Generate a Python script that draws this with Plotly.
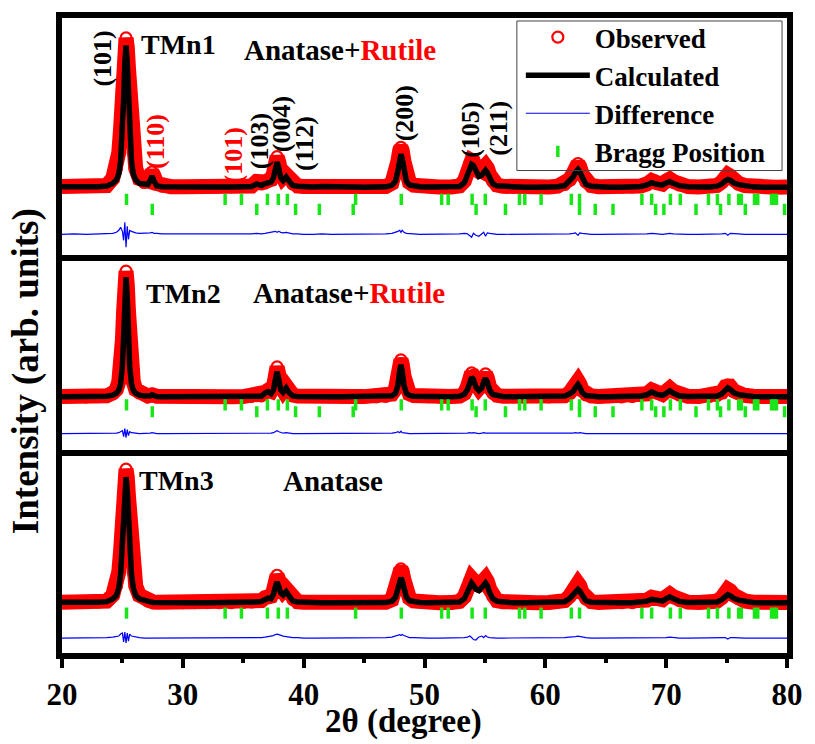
import plotly.graph_objects as go
from plotly.subplots import make_subplots

# ---------------- data ----------------
TWO_THETA = [20, 21, 22, 23, 23.7,
             24.2, 24.5, 24.7, 24.85, 25.0, 25.1, 25.2, 25.3, 25.4, 25.5, 25.6, 25.75, 25.9, 26.1, 26.4, 26.8,
             27.1, 27.3, 27.45, 27.6, 27.85, 28.3,
             29, 30, 31, 32, 33, 34, 35, 35.7, 36.1, 36.5,
             36.8, 37.05, 37.3, 37.5, 37.65, 37.8, 37.95, 38.1, 38.3, 38.55, 38.8, 39.1, 39.5, 40.0,
             40.8, 41.5, 42.3, 43.2, 44.1, 45, 46, 46.8, 47.3,
             47.6, 47.8, 47.95, 48.05, 48.15, 48.3, 48.5, 48.75, 49.1, 49.6,
             50.3, 51.2, 52.2, 52.9,
             53.3, 53.55, 53.75, 53.9, 54.05, 54.25, 54.5, 54.75, 54.9, 55.05, 55.2, 55.4, 55.65, 56.0, 56.5,
             57.3, 58.3, 59.3, 60.3, 61.0,
             61.6, 62.0, 62.3, 62.5, 62.7, 62.85, 63.05, 63.35, 63.8, 64.4,
             65.3, 66.3, 67.2, 67.9,
             68.4, 68.8, 69.2, 69.7, 70.0, 70.3, 70.6, 71.1, 71.8, 72.7, 73.6,
             74.2, 74.6, 74.9, 75.1, 75.3, 75.6, 76.0, 76.5, 77.2, 78.0, 79.0, 80.0]

CALC_TMN1 = [1.8, 1.6, 1.6, 1.8, 2.5,
             5, 8.5, 14.5, 27.5, 56.5, 89.5, 126.5, 143.5, 126.5, 89.5, 56.5, 27.5, 14.5, 8.5, 5, 4,
             4, 8, 12.5, 8, 2.5, 1.7,
             1.5, 1.5, 1.5, 1.5, 1.5, 1.5, 1.6, 2, 4.5, 3,
             5.0, 6.2, 6.3, 10.7, 19.9, 26.5, 19.8, 10.8, 8.0, 11.6, 7.3, 3.0, 2.2, 1.7,
             1.5, 2, 1.5, 1.3, 1.5, 1.3, 1.3, 1.6, 3.1,
             7.2, 17.8, 30.3, 34.3, 30.3, 17.8, 7.2, 3.4, 2.2, 1.7,
             1.5, 1.3, 1.3, 2,
             5.7, 12.4, 20.9, 24.2, 23, 17.3, 12, 13.4, 16.9, 18.2, 15.9, 9.8, 4.8, 2.6, 2.2,
             1.2, 1.2, 1.2, 1.3, 1.8,
             2.9, 7, 11.7, 16.2, 19, 16.5, 10, 4.2, 2.2, 1.6,
             1.2, 1.2, 1.3, 2,
             3.5, 5.8, 4.2, 3.5, 5.5, 6.8, 5, 2.8, 1.7, 1.4, 1.5,
             2.3, 4.5, 7.8, 9, 8.2, 5.5, 3.8, 2.4, 1.6, 1.3, 1.2, 1.2]
OBS_TMN1 = [2, 1.8, 1.8, 2, 3,
            10, 20, 36, 60, 94, 121, 142, 151, 142, 121, 94, 60, 36, 20, 10, 6,
            7.5, 13, 16.5, 13, 5, 2.2,
            1.8, 1.6, 1.8, 1.6, 1.7, 1.8, 2, 2.5, 7, 4.5,
            6.5, 8, 9, 15, 25, 32, 26, 16, 11, 14, 9.5, 4.5, 2.5, 2,
            1.6, 2.2, 1.7, 1.5, 1.7, 1.5, 1.5, 2, 5.3,
            13.7, 27.3, 38.3, 41.3, 38.3, 27.3, 13.7, 6.1, 3.3, 2.2,
            1.7, 1.5, 1.5, 2.5,
            7.5, 16, 25, 28, 27, 21, 16, 17.5, 21, 23, 20.5, 13.5, 7, 3.5, 2.2,
            1.4, 1.3, 1.4, 1.5, 2.2,
            4, 9, 15, 21, 25, 22, 14, 6.5, 3, 1.8,
            1.4, 1.3, 1.5, 2.5,
            4.5, 8, 6, 4.5, 7.5, 9.5, 7, 3.5, 2, 1.5, 1.8,
            3, 6.5, 12, 14, 12.5, 8, 5, 3, 1.8, 1.5, 1.3, 1.5]
DIFF_TMN1 = [0, 0.5, 0, 0.5, 0.5,
             1, 2, 4, 7, 3, -6, 12, -13, 8, -5, 4, 3, 2, 1.5, 1, 1,
             1, 1.5, 2, 1, 1, 0.5,
             0.5, 0.5, 0, 0.5, 0, 0.5, 0, 0.5, 1, 0.5,
             1, 1.5, 2, 2.5, 3, 2, 3, 2, 1.5, 2, 1, 0.5, 0.5, 0,
             0, 0.5, 0, 0, 0.5, 0, 0, 0.5, 1,
             2, 3, 4, 2, 4, 2, 1, 0.5, 0.5, 0,
             0, 0, 0, 0.5,
             1, 0.5, -1.5, -3, 1, -1, -2, 1, 2, -2, 1.5, 1, 0.5, 0, 0,
             0, 0, 0, 0, 0,
             0.5, 0.5, 1, 1.5, -1, 1.5, 1, 0.5, 0, 0,
             0, 0, 0, 0.5,
             0.5, 1, 0.5, 0, 0.5, 1, 0.5, 0, 0, 0, 0,
             0, 0.5, 1, -1, 1, 0.5, 0.5, 0, 0, 0, 0, 0]

CALC_TMN2 = [1, 1, 1, 1.2, 1.6,
             2.7, 4.6, 7.6, 14, 32, 61, 101, 121, 101, 61, 32, 14, 7.6, 4.6, 2.7, 1.8,
             1.5, 2, 3, 2, 1.2, 1,
             1, 1, 1, 1, 1, 1, 1, 1.2, 1.8, 1.5,
             4.8, 6.1, 4.1, 7.9, 17.9, 26.3, 17.9, 8.2, 5.5, 9.8, 5.1, 1.9, 1.4, 1.1,
             1, 1.3, 1, 1, 1.2, 1, 1, 1.2, 2,
             4.5, 12.5, 27.6, 33, 27.6, 12.5, 4.5, 2.3, 1.5, 1.2,
             1, 1, 1, 1.5,
             3.5, 8, 16.6, 20.5, 18.3, 10.7, 7.2, 9.9, 16.1, 19.5, 15.8, 7.6, 3.4, 2, 1.4,
             1, 1, 1, 1, 1.3,
             1.7, 4, 6.4, 10.2, 13.4, 10.8, 5.2, 2.2, 1.4, 1.1,
             1, 1, 1.1, 1.8,
             3, 6, 3.5, 2.5, 4.5, 7, 4.5, 2, 1.3, 1.1, 1.2,
             1.8, 3.8, 8, 10, 8.5, 5, 3.2, 2, 1.3, 1.1, 1, 1]
OBS_TMN2 = [1.2, 1.2, 1, 1.2, 2,
            4.8, 8.3, 16, 29, 58, 87, 114, 127, 114, 87, 58, 29, 16, 8.3, 4.8, 3,
            1.8, 2.5, 4, 2.5, 1.5, 1.2,
            1.2, 1, 1.2, 1, 1.2, 1, 1.2, 1.5, 2.2, 2,
            5.5, 7.5, 6.5, 11, 23, 31, 23, 11.5, 7.5, 12, 7, 2.8, 1.7, 1.3,
            1.2, 1.5, 1.2, 1, 1.4, 1.2, 1, 1.5, 3.8,
            9.1, 21.7, 34.3, 38, 34.3, 21.7, 9.1, 4.1, 2.2, 1.5,
            1.2, 1, 1.2, 1.8,
            4.5, 11, 21, 25, 22.5, 14, 9.5, 13, 20.5, 24, 20, 10, 4.5, 2.5, 1.6,
            1.2, 1, 1.2, 1, 1.5,
            2, 5, 8.5, 13.5, 17, 14, 7.5, 3, 1.8, 1.3,
            1.2, 1, 1.3, 2.2,
            4, 8, 5, 3.5, 6.5, 9.5, 6.5, 2.8, 1.5, 1.2, 1.5,
            2.2, 5.5, 11, 13, 11.5, 7, 4.2, 2.5, 1.5, 1.2, 1.1, 1.2]
DIFF_TMN2 = [0, 0, 0, 0, 0,
             0.5, 0.5, 1, 2, 3, -3, 5, -4, 4, -2, 2, 1, 0.5, 0.5, 0, 0,
             0, 0.5, 1, 0.5, 0, 0,
             0, 0, 0, 0, 0, 0, 0, 0, 0.5, 0,
             0.5, 0.5, 0.5, 1, 2, 3, 2, 1, 0.5, 1, 0.5, 0, 0, 0,
             0, 0, 0, 0, 0, 0, 0, 0, 0.5,
             1, 2, 1, 2.5, 1, 1, 0.5, 0, 0, 0,
             0, 0, 0, 0,
             0.5, 0.5, 1, 0.5, 1, 0.5, 0, 0.5, 1, 0.5, 0.5, 0, 0, 0, 0,
             0, 0, 0, 0, 0,
             0, 0.5, 0.5, 1, 0.5, 1, 0.5, 0, 0, 0,
             0, 0, 0, 0,
             0, 0.5, 0, 0, 0.5, 0.5, 0, 0, 0, 0, 0,
             0, 0, 0.5, 0.5, 0, 0.5, 0, 0, 0, 0, 0, 0]

CALC_TMN3 = [1.8, 1.6, 1.6, 1.8, 2.5,
             5.3, 8.8, 16.5, 29.5, 58.5, 87.5, 114.5, 127.5, 114.5, 87.5, 58.5, 29.5, 16.5, 8.8, 5.3, 3.5,
             2.5, 2, 1.8, 1.7, 1.6, 1.5,
             1.4, 1.4, 1.4, 1.4, 1.4, 1.4, 1.5, 1.8, 2.2, 2.8,
             5, 6, 5.4, 9.9, 17.2, 22.2, 17.6, 11.2, 9.2, 12.5, 8.2, 3.3, 2.1, 1.7,
             1.5, 1.4, 1.4, 1.4, 1.4, 1.4, 1.4, 1.6, 3,
             6.9, 15.4, 23.9, 26.4, 23.9, 15.4, 6.9, 3.5, 2.2, 1.7,
             1.5, 1.4, 1.4, 2.2,
             5.5, 11.3, 18.5, 21.2, 18.9, 15, 13.5, 16, 18.9, 21.2, 18.5, 11.3, 5.5, 2.8, 2.1,
             1.3, 1.3, 1.3, 1.4, 1.8,
             2.5, 5.6, 9.3, 12.6, 14.8, 12.9, 8, 3.5, 2, 1.6,
             1.3, 1.3, 1.4, 2,
             3, 4.8, 3.8, 3.2, 5.5, 7.3, 5.3, 2.8, 1.7, 1.4, 1.5,
             2.2, 4.5, 8, 9.5, 8.6, 5.8, 4, 2.6, 1.7, 1.4, 1.3, 1.3]
OBS_TMN3 = [2, 1.8, 1.8, 2, 3,
            9, 18.3, 32.3, 53.5, 84.5, 108.5, 127.5, 135.5, 127.5, 108.5, 84.5, 53.5, 32.3, 18.3, 9, 5.5,
            3, 2.3, 2, 2, 1.8, 1.7,
            1.6, 1.5, 1.6, 1.5, 1.6, 1.6, 1.8, 2.2, 2.8, 3.5,
            6.5, 8, 8, 14, 23, 29, 24, 16, 12.5, 15.5, 10.5, 4.5, 2.5, 2,
            1.7, 1.6, 1.5, 1.5, 1.6, 1.5, 1.6, 2, 4.5,
            13.3, 24.4, 33, 35.4, 33, 24.4, 13.3, 6.2, 3.3, 2.3,
            1.7, 1.5, 1.6, 2.8,
            7.5, 15, 23, 26, 24, 20, 18, 20.5, 24, 26, 23, 15, 7.5, 3.5, 2.5,
            1.5, 1.4, 1.5, 1.6, 2.2,
            3.5, 8, 13, 18, 21, 18.5, 11.5, 5, 2.5, 1.8,
            1.5, 1.4, 1.6, 2.5,
            4, 7, 5.5, 4.5, 7.5, 10, 7.5, 3.5, 2, 1.6, 1.8,
            3, 6.5, 12.5, 15, 13.5, 9, 5.5, 3.2, 2, 1.6, 1.5, 1.6]
DIFF_TMN3 = [0, 0, 0, 0, 0.5,
             1, 1.5, 2, 4, 5, -4, 6, -5, 5, -3, 4, 2, 1.5, 1, 0.5, 0,
             0, 0, 0, 0, 0, 0,
             0, 0, 0, 0, 0, 0, 0, 0, 0.5, 0.5,
             1, 1.5, 1.5, 2.5, 3.5, 4, 3.5, 2.5, 2, 1.5, 1, 0.5, 0.5, 0,
             0, 0, 0, 0, 0, 0, 0, 0.5, 1,
             2, 3, 3.5, 2.5, 3.5, 2.5, 1.5, 0.5, 0.5, 0,
             0, 0, 0, 0.5,
             0.5, 1, 2, 0.5, -1.5, -2, 1, 2, 0.5, 2.5, 1, 0.5, 0, 0, 0,
             0, 0, 0, 0, 0,
             0.5, 1, 1, 1.5, 2, 1.5, 1, 0.5, 0, 0,
             0, 0, 0, 0.5,
             0.5, 0.5, 0.5, 0, 0.5, 1, 0.5, 0, 0, 0, 0,
             0, 0.5, 0.5, -1, 0.5, 0.5, 0, 0, 0, 0, 0, 0]

ANATASE_BRAGG = [25.34, 33.5, 34.85, 37.0, 37.9, 38.65, 44.3, 48.08, 51.42, 51.96,
                 53.94, 55.03, 57.86, 58.3, 59.65, 62.15, 62.83, 67.99, 68.8, 70.35,
                 71.17, 73.5, 74.24, 75.19, 76.0, 76.22, 77.31, 77.58, 78.72, 78.94, 79.13]
RUTILE_BRAGG = [27.47, 36.12, 39.33, 41.3, 44.1, 54.27, 56.7, 62.83, 64.13, 65.6,
                69.13, 69.81, 72.47, 74.5, 76.55, 79.8]

X_TICKS = [20, 30, 40, 50, 60, 70, 80]
SAMPLES = ["TMn1", "TMn2", "TMn3"]

# ---------------- styling ----------------
FONT = "Liberation Serif, Times New Roman, serif"
RED, BLUE, GREEN, BLACK = "#ff0000", "#0000ff", "#19e619", "#000000"
W, H = 815, 744
L, R, T, B = 62, 23, 16, 91
PW, PH = W - L - R, H - T - B


def px(x):
    return (x - L) / PW


def py(y):
    return (H - B - y) / PH


panels = [
    dict(obs=OBS_TMN1, calc=CALC_TMN1, diff=DIFF_TMN1, dom=(254, 16), rng=[-67, 171],
         doff=-46, aoff=-11, roff=-21, rutile=True),
    dict(obs=OBS_TMN2, calc=CALC_TMN2, diff=DIFF_TMN2, dom=(449, 260), rng=[-52, 137],
         doff=-36, aoff=-7, roff=-14, rutile=True),
    dict(obs=OBS_TMN3, calc=CALC_TMN3, diff=DIFF_TMN3, dom=(653, 455), rng=[-49, 149],
         doff=-34, aoff=-9, roff=None, rutile=False),
]

fig = make_subplots(rows=3, cols=1, shared_xaxes=True, vertical_spacing=0.01)

for i, p in enumerate(panels):
    row = i + 1
    first = (i == 0)
    fig.add_trace(go.Scatter(x=TWO_THETA, y=p["obs"], mode="lines",
                             line=dict(color=RED, width=15), showlegend=False,
                             hoverinfo="skip"), row=row, col=1)
    fig.add_trace(go.Scatter(x=TWO_THETA, y=p["obs"], mode="markers", name="Observed",
                             marker=dict(symbol="circle-open", size=11, color=RED,
                                         line=dict(color=RED, width=2.2)),
                             showlegend=first, legendgroup="obs"), row=row, col=1)
    fig.add_trace(go.Scatter(x=TWO_THETA, y=p["calc"], mode="lines", name="Calculated",
                             line=dict(color=BLACK, width=5.5),
                             showlegend=first, legendgroup="calc"), row=row, col=1)
    fig.add_trace(go.Scatter(x=TWO_THETA, y=[d + p["doff"] for d in p["diff"]], mode="lines",
                             name="Difference", line=dict(color=BLUE, width=1.2),
                             showlegend=first, legendgroup="diff"), row=row, col=1)
    fig.add_trace(go.Scatter(x=ANATASE_BRAGG, y=[p["aoff"]] * len(ANATASE_BRAGG),
                             mode="markers", name="Bragg Position",
                             marker=dict(symbol="line-ns", size=8, color=GREEN,
                                         line=dict(color=GREEN, width=3.5)),
                             showlegend=first, legendgroup="bragg"), row=row, col=1)
    if p["rutile"]:
        fig.add_trace(go.Scatter(x=RUTILE_BRAGG, y=[p["roff"]] * len(RUTILE_BRAGG),
                                 mode="markers", name="Bragg Position",
                                 marker=dict(symbol="line-ns", size=8, color=GREEN,
                                             line=dict(color=GREEN, width=3.5)),
                                 showlegend=False, legendgroup="bragg"), row=row, col=1)

axis_line = dict(showline=True, linewidth=6, linecolor=BLACK, mirror=True,
                 showgrid=False, zeroline=False)

for i, p in enumerate(panels):
    yname = "yaxis" if i == 0 else f"yaxis{i + 1}"
    xname = "xaxis" if i == 0 else f"xaxis{i + 1}"
    fig.layout[yname].update(domain=[py(p["dom"][0]), py(p["dom"][1])], range=p["rng"],
                             showticklabels=False, ticks="", **axis_line)
    fig.layout[xname].update(range=[20, 80], **axis_line)
    if i < 2:
        fig.layout[xname].update(ticks="", showticklabels=False)
    else:
        fig.layout[xname].update(ticks="outside", ticklen=9, tickwidth=4, tickcolor=BLACK,
                                 tickvals=X_TICKS, showticklabels=True,
                                 tickfont=dict(size=31, family=FONT, weight="bold", color=BLACK),
                                 minor=dict(dtick=5, tick0=20, ticks="outside", ticklen=4,
                                            tickwidth=4, tickcolor=BLACK))

ann = []


def txt(text, x, y, size, color=BLACK, angle=0, xanchor="center"):
    ann.append(dict(text=text, x=px(x), y=py(y), xref="paper", yref="paper",
                    showarrow=False, textangle=angle, xanchor=xanchor, yanchor="middle",
                    font=dict(family=FONT, size=size, color=color, weight="bold")))


# sample names and phases
txt(SAMPLES[0], 140, 43, 28, xanchor="left")
txt("Anatase+<span style='color:#ff0000'>Rutile</span>", 243, 48, 29, xanchor="left")
txt(SAMPLES[1], 145, 292, 28, xanchor="left")
txt("Anatase+<span style='color:#ff0000'>Rutile</span>", 252, 292, 29, xanchor="left")
txt(SAMPLES[2], 138, 480, 28, xanchor="left")
txt("Anatase", 283, 480, 29, xanchor="left")

# peak indices
for lab, x, y, c in [("(101)", 103, 57, BLACK), ("(110)", 156, 140, RED), ("(101)", 235, 154, RED),
                     ("(103)", 261, 140, BLACK), ("(004)", 283, 122, BLACK), ("(112)", 306, 142, BLACK),
                     ("(200)", 407, 112, BLACK), ("(105)", 473, 128, BLACK), ("(211)", 502, 126, BLACK)]:
    txt(lab, x, y, 26, color=c, angle=-90)

# axis titles
txt("2θ (degree)", 406, 722, 33)
txt("Intensity (arb. units)", 26, 370, 37, angle=-90)

fig.update_layout(
    width=W, height=H,
    margin=dict(l=L, r=R, t=T, b=B, pad=0),
    paper_bgcolor="white", plot_bgcolor="white",
    font=dict(family=FONT, color=BLACK, weight="bold"),
    annotations=ann,
    shapes=[dict(type="rect", xref="paper", yref="paper", x0=px(520), x1=px(787),
                 y0=py(169), y1=py(19), line=dict(color="#444444", width=1),
                 fillcolor="rgba(0,0,0,0)", layer="above")],
    legend=dict(x=px(524), y=py(11), xanchor="left", yanchor="top",
                bgcolor="rgba(255,255,255,0)", borderwidth=0,
                font=dict(family=FONT, size=27, color=BLACK, weight="bold"),
                itemwidth=64, tracegroupgap=0, traceorder="normal"),
)

fig.write_html("out.html", config={"displayModeBar": False},
               post_script="document.body.style.margin='0px';")
